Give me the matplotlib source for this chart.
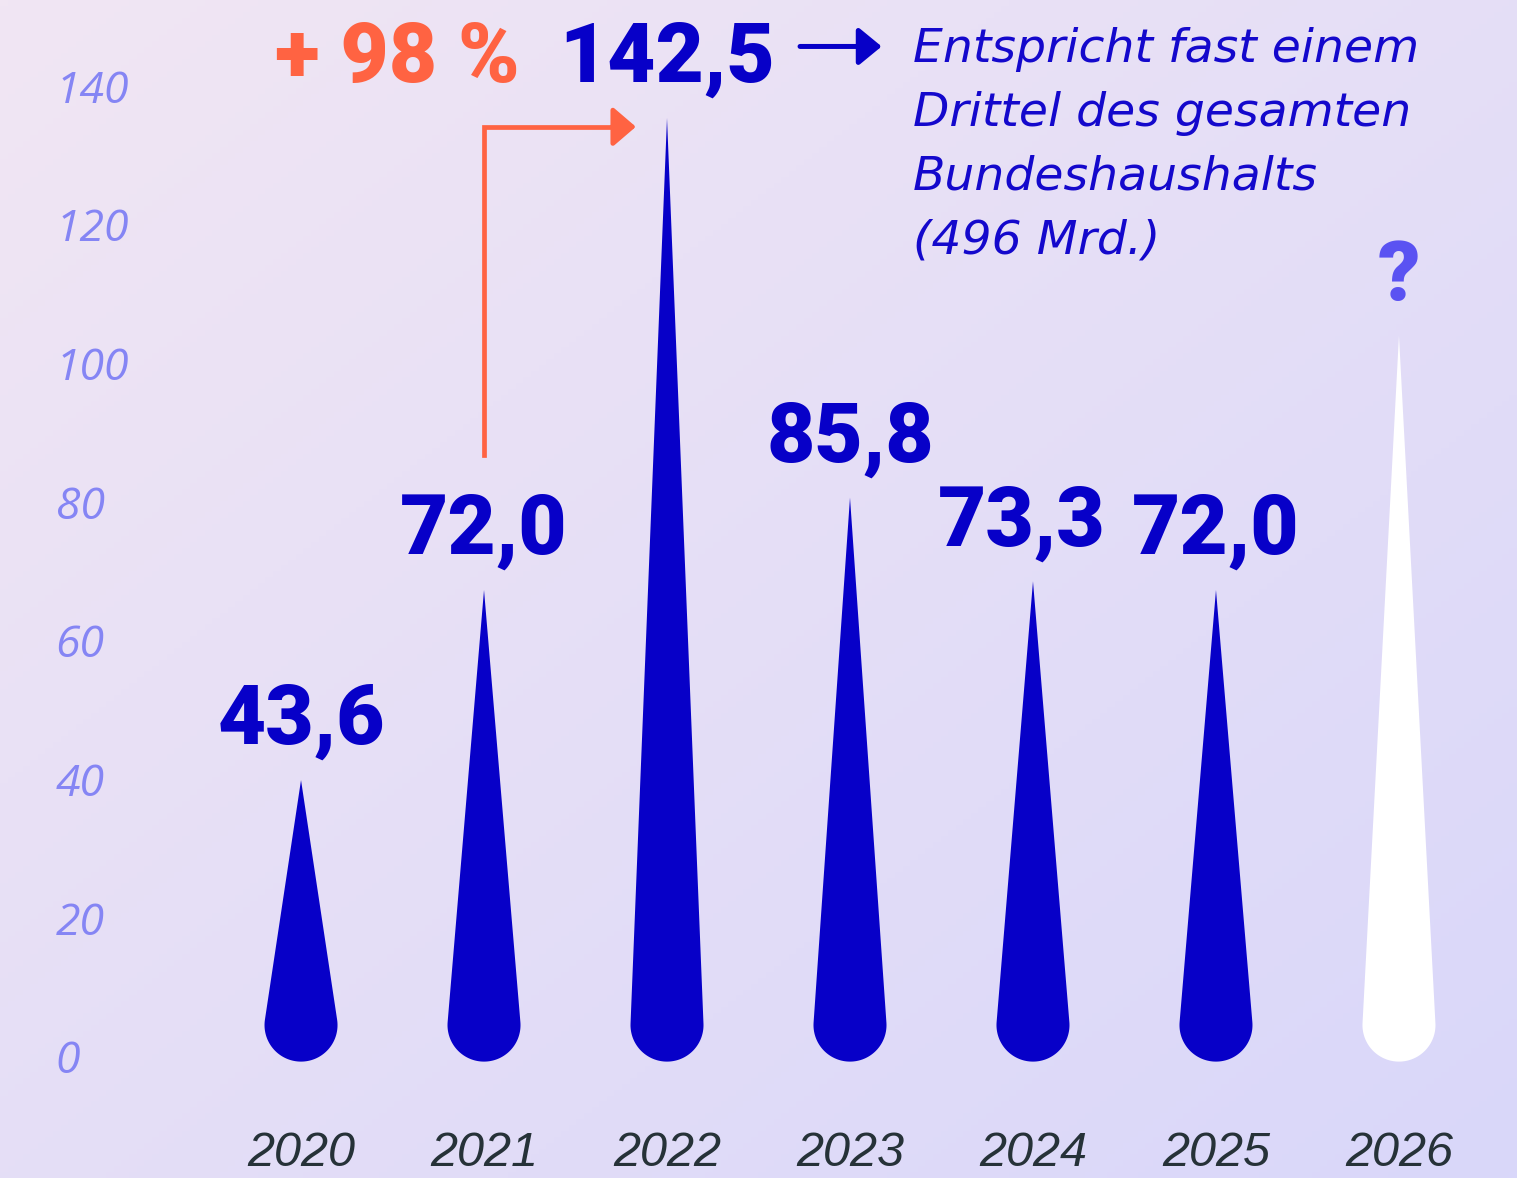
import numpy as np
import matplotlib.pyplot as plt
from matplotlib.patches import Polygon
import matplotlib.colors as mcolors

jahre = ['2020', '2021', '2022', '2023', '2024', '2025', '2026']
werte = [43.6, 72.0, 142.5, 85.8, 73.3, 72.0]
werte_text = ['43,6', '72,0', '142,5', '85,8', '73,3', '72,0']
hoehe_2026 = 110  # Platzhalter, Wert unbekannt
y_ticks = [0, 20, 40, 60, 80, 100, 120, 140]
anmerkung = ['Entspricht fast einem', 'Drittel des gesamten',
             'Bundeshaushalts', '(496 Mrd.)']

BLAU = '#0700c8'
ORANGE = '#ff6342'
W, H = 1517, 1178

fig = plt.figure(figsize=(W / 100, H / 100), dpi=100)

# Hintergrund mit diagonalem Verlauf
bg = fig.add_axes([0, 0, 1, 1])
gx, gy = np.meshgrid(np.linspace(0, 1, 200), np.linspace(0, 1, 200))
t = (gx + gy) / 2
c0 = np.array(mcolors.to_rgb('#f1e6f3'))
c1 = np.array(mcolors.to_rgb('#d9d7fa'))
img = c0 + (c1 - c0) * t[..., None]
bg.imshow(img, extent=[0, 1, 0, 1], aspect='auto', origin='upper')
bg.axis('off')

# Achse fuer die Tropfen
ax = fig.add_axes([0, 0, 1, 1])
ax.set_xlim(-1.645, 6.645)
ax.set_ylim(-15.84, 160.14)
ax.patch.set_alpha(0)
ax.axis('off')
sx = W / (6.645 + 1.645)
sy = H / (160.14 + 15.84)


def tropfen(x, top, color):
    r = 36.5           # Radius der runden Basis in Pixel
    cy = 7.0           # Mittelpunkt der Basis in Datenkoordinaten
    h = (top - cy) * sy
    a = np.arcsin(r / h)
    ang = np.linspace(a, -np.pi - a, 80)
    xs = list(x + r * np.cos(ang) / sx) + [x]
    ys = list(cy + r * np.sin(ang) / sy) + [top]
    ax.add_patch(Polygon(np.column_stack([xs, ys]), closed=True,
                         facecolor=color, edgecolor='none', zorder=3))


for i, v in enumerate(werte):
    tropfen(i, v, BLAU)
tropfen(6, hoehe_2026, 'white')

fett = dict(family=['Roboto', 'DejaVu Sans'], fontweight=900, fontsize=60)
dx = [0, 0, 0, 0, -8, 0]
for i, (v, s) in enumerate(zip(werte, werte_text)):
    ax.annotate(s, xy=(i, v), xytext=(dx[i], 26), textcoords='offset points',
                ha='center', va='baseline', color=BLAU, **fett)

ax.annotate('?', xy=(6, hoehe_2026), xytext=(0, 25), textcoords='offset points',
            ha='center', va='baseline', color='#5a52f2', **fett)
ax.annotate('+ 98 %', xy=(2, werte[2]), xytext=(-106, 26), textcoords='offset points',
            ha='right', va='baseline', color=ORANGE, **fett)

# Pfeil von 2021 zu 2022
y_start, y_oben = werte[1] + 20.2, werte[2] - 1.3
ax.plot([1, 1, 1.74], [y_start, y_oben, y_oben], color=ORANGE, lw=3.4,
        solid_joinstyle='miter', zorder=2)
ax.annotate('', xy=(1.83, y_oben), xytext=(1.70, y_oben),
            arrowprops=dict(arrowstyle='-|>,head_length=1.4,head_width=1.2',
                            color=ORANGE, lw=3.4, shrinkA=0, shrinkB=0,
                            mutation_scale=10))

# Pfeil zur Anmerkung
ax.annotate('', xy=(3.173, 153.2), xytext=(2.727, 153.2),
            arrowprops=dict(arrowstyle='-|>,head_length=1.4,head_width=1.15',
                            color=BLAU, lw=3.6, shrinkA=0, shrinkB=0,
                            mutation_scale=10))

for k, zeile in enumerate(anmerkung):
    fig.text(913 / W, 1 - (62 + 64 * k) / H, zeile, ha='left', va='baseline',
             fontsize=34, fontstyle='italic', color='#1408cc',
             family=['DejaVu Sans'])

# Jahreszahlen
for i, j in enumerate(jahre):
    ax.text(i, 2 / H, j, transform=ax.get_xaxis_transform(), ha='center',
            va='bottom', fontsize=35, fontstyle='italic', color='#263238',
            family=['Liberation Sans', 'DejaVu Sans'])

# y-Achse mit eigener Skala
tax = fig.add_axes([0, 0, 1, 1])
tax.set_ylim(-17.53, 152.41)
tax.set_xticks([])
tax.patch.set_alpha(0)
for sp in tax.spines.values():
    sp.set_visible(False)
tax.set_yticks(y_ticks)
tax.set_yticklabels([str(v) for v in y_ticks])
tax.tick_params(axis='y', length=0, pad=-40, labelcolor='#8585f4')
for lab in tax.get_yticklabels():
    lab.set_ha('left')
    lab.set_fontsize(32)
    lab.set_fontstyle('italic')
    lab.set_family(['Open Sans', 'DejaVu Sans'])

fig.savefig('out.png', dpi=100)
